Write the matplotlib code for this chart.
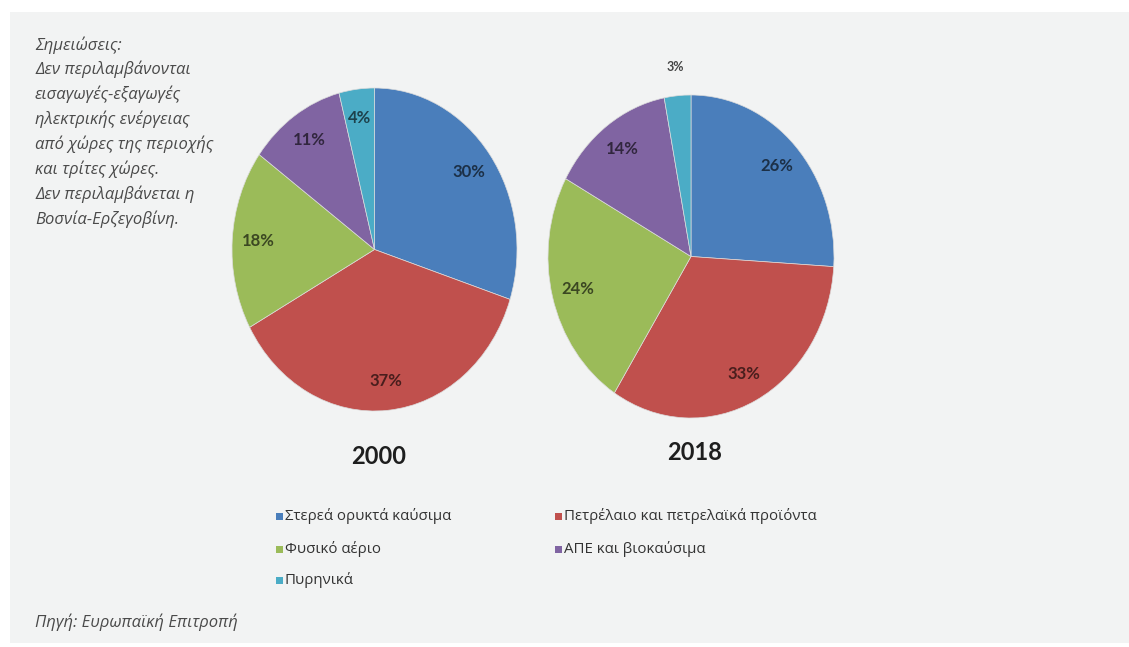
import matplotlib.pyplot as plt
import matplotlib.colors as mcolors
from matplotlib.patches import Rectangle
import numpy as np

# Energy mix shares (%), same order for both years
categories = ["Στερεά ορυκτά καύσιμα", "Πετρέλαιο και πετρελαϊκά προϊόντα",
              "Φυσικό αέριο", "ΑΠΕ και βιοκαύσιμα", "Πυρηνικά"]
shares_2000 = [30, 37, 18, 11, 4]
shares_2018 = [26, 33, 24, 14, 3]
years = ["2000", "2018"]

colors = ["#4a7ebb", "#c0504d", "#9bbb59", "#8064a2", "#4bacc6"]

notes = ("Σημειώσεις:\nΔεν περιλαμβάνονται\nεισαγωγές-εξαγωγές\n"
         "ηλεκτρικής ενέργειας\nαπό χώρες της περιοχής\nκαι τρίτες χώρες.\n"
         "Δεν περιλαμβάνεται η\nΒοσνία-Ερζεγοβίνη.")
source = "Πηγή: Ευρωπαϊκή Επιτροπή"

W, H = 1129, 647
fig = plt.figure(figsize=(W / 100, H / 100), dpi=100, facecolor="white")

def fx(px):
    return px / W

def fy(py):
    return 1 - py / H

# light grey panel behind everything
fig.patches.append(Rectangle((fx(10), fy(643)), fx(W - 10), (643 - 12) / H,
                             transform=fig.transFigure, facecolor="#f2f3f3",
                             edgecolor="none", zorder=-5))

italic = dict(family=["Open Sans", "Noto Sans", "DejaVu Sans"], style="italic",
              color="#4a4a4a", fontsize=12)
fig.text(fx(35), fy(36), notes, va="top", ha="left", linespacing=1.55, **italic)
fig.text(fx(35), fy(622), source, va="center", ha="left", **italic)

label_font = ["Lato", "DejaVu Sans"]

# pie boxes in pixels: left, top, right, bottom (pies are drawn stretched)
boxes = [(232, 88, 517, 411), (548, 95, 834, 418)]

for data, year, (l, t, r, b), yr_y in zip([shares_2000, shares_2018], years,
                                         boxes, [457, 452]):
    ax = fig.add_axes([fx(l), fy(b), fx(r - l), (b - t) / H])
    wedges, _ = ax.pie(data, colors=colors, startangle=90, counterclock=False,
                       wedgeprops=dict(edgecolor="#dcdcdc", linewidth=0.5))
    ax.set_aspect("auto")
    ax.set_xlim(-1, 1)
    ax.set_ylim(-1, 1)
    for w, v, c in zip(wedges, data, colors):
        ang = np.deg2rad((w.theta1 + w.theta2) / 2)
        inside = v >= 4
        dist = 0.82 if inside else 1.18
        dark = tuple(np.array(mcolors.to_rgb(c)) * 0.38)
        ax.text(dist * np.cos(ang), dist * np.sin(ang), f"{v}%",
                ha="center", va="center", fontsize=12 if inside else 9,
                fontweight="bold", family=label_font,
                color=dark if inside else "#444444", clip_on=False)
    fig.text(fx((l + r) / 2 + 4), fy(yr_y), year, ha="center", va="center",
             fontsize=17, fontweight="bold", family=label_font, color="#1e1e1e")

# legend, two columns filled row by row
col_x = [276, 555]
row_y = [516, 549, 580]
for i, (name, c) in enumerate(zip(categories, colors)):
    x = col_x[i % 2]
    y = row_y[i // 2]
    fig.patches.append(Rectangle((fx(x), fy(y + 3.5)), fx(7), 7 / H,
                                 transform=fig.transFigure, facecolor=c,
                                 edgecolor="none"))
    fig.text(fx(x + 9), fy(y), name, ha="left", va="center", fontsize=10.8,
             family=["Open Sans", "DejaVu Sans"], color="#333333")

fig.savefig("out.png", dpi=100, facecolor=fig.get_facecolor())
